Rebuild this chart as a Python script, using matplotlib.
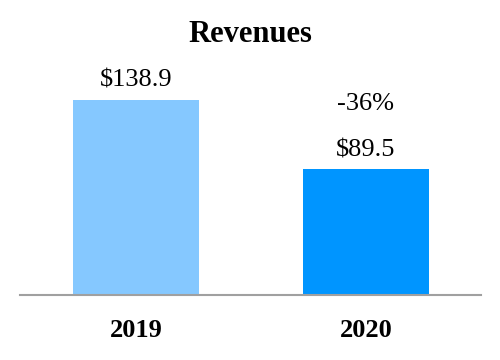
import matplotlib
matplotlib.use('Agg')
import matplotlib.pyplot as plt

years = ['2019', '2020']
revenues = [138.9, 89.5]
labels = ['$138.9', '$89.5']
change_label = '-36%'
colours = ['#85C8FF', '#0095FF']

plt.rcParams['font.family'] = ['Liberation Serif', 'DejaVu Serif']

fig = plt.figure(figsize=(5, 3.6), dpi=100)
# axes placed in pixel terms: baseline at y=295, left 20, right 481
ax = fig.add_axes([20 / 500, 65 / 360, 461 / 500, 235 / 360])

x = range(len(years))
ax.bar(x, revenues, width=0.548, color=colours)

ax.set_xlim(-0.504, 1.5)
ax.set_ylim(0, 235 / 1.404)

for i, (v, lab) in enumerate(zip(revenues, labels)):
    ax.annotate(lab, (i, v), xytext=(0, 19 * 0.72), textcoords='offset points',
                ha='center', va='center', fontsize=19)

# change label above the 2020 bar
ax.annotate(change_label, (1, revenues[1]), xytext=(0, 65 * 0.72), textcoords='offset points',
            ha='center', va='center', fontsize=19)

ax.set_xticks(list(x))
ax.set_xticklabels(years, fontsize=19, fontweight='bold')
ax.tick_params(axis='x', length=0, pad=17)
ax.set_yticks([])

for s in ['top', 'right', 'left']:
    ax.spines[s].set_visible(False)
ax.spines['bottom'].set_color('#A0A0A0')
ax.spines['bottom'].set_linewidth(1.5)

fig.text(0.5, 1 - 35 / 360, 'Revenues', ha='center', va='center',
         fontsize=22, fontweight='bold')

fig.savefig('out.png', dpi=100)
